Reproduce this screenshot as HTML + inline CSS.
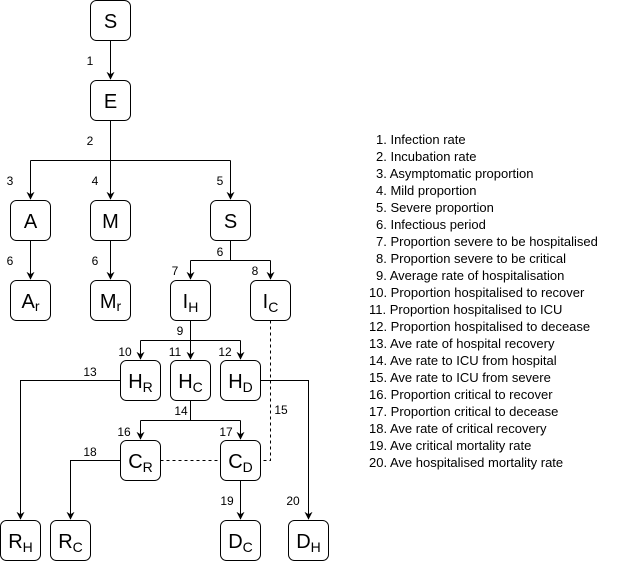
<!DOCTYPE html>
<html><head><meta charset="utf-8"><style>
html,body{margin:0;padding:0;background:#fff;}
svg{display:block;}
svg text{font-family:"Liberation Sans",Arial,sans-serif;}
</style></head><body>
<svg width="621" height="561" viewBox="0 0 621 561" xmlns="http://www.w3.org/2000/svg" font-family="Liberation Sans, Arial, sans-serif">
<defs>
<marker id="ar" viewBox="0 0 10 10" refX="9" refY="5" markerWidth="8" markerHeight="8" orient="auto" markerUnits="userSpaceOnUse">
<path d="M0,0 L10,5 L0,10 L3,5 z" fill="#000"/>
</marker>
</defs>
<g fill="#fff" stroke="#000" stroke-width="1">
<rect x="90.5" y="0.5" width="40" height="40" rx="6"/>
<rect x="90.5" y="80.5" width="40" height="40" rx="6"/>
<rect x="10.5" y="200.5" width="40" height="40" rx="6"/>
<rect x="90.5" y="200.5" width="40" height="40" rx="6"/>
<rect x="210.5" y="200.5" width="40" height="40" rx="6"/>
<rect x="10.5" y="280.5" width="40" height="40" rx="6"/>
<rect x="90.5" y="280.5" width="40" height="40" rx="6"/>
<rect x="170.5" y="280.5" width="40" height="40" rx="6"/>
<rect x="250.5" y="280.5" width="40" height="40" rx="6"/>
<rect x="120.5" y="360.5" width="40" height="40" rx="6"/>
<rect x="170.5" y="360.5" width="40" height="40" rx="6"/>
<rect x="220.5" y="360.5" width="40" height="40" rx="6"/>
<rect x="120.5" y="440.5" width="40" height="40" rx="6"/>
<rect x="220.5" y="440.5" width="40" height="40" rx="6"/>
<rect x="0.5" y="520.5" width="40" height="40" rx="6"/>
<rect x="50.5" y="520.5" width="40" height="40" rx="6"/>
<rect x="220.5" y="520.5" width="40" height="40" rx="6"/>
<rect x="288.5" y="520.5" width="40" height="40" rx="6"/>
</g>
<g fill="none" stroke="#000" stroke-width="1">
<path d="M110.5 40.5 V79" marker-end="url(#ar)"/>
<path d="M110.5 120.5 V199" marker-end="url(#ar)"/>
<path d="M30.5 160.5 H230.5"/>
<path d="M30.5 160.5 V199" marker-end="url(#ar)"/>
<path d="M230.5 160.5 V199" marker-end="url(#ar)"/>
<path d="M30.5 240.5 V279" marker-end="url(#ar)"/>
<path d="M110.5 240.5 V279" marker-end="url(#ar)"/>
<path d="M230.5 240.5 V260.5 M190.5 260.5 H270.5"/>
<path d="M190.5 260.5 V279" marker-end="url(#ar)"/>
<path d="M270.5 260.5 V279" marker-end="url(#ar)"/>
<path d="M190.5 320.5 V359" marker-end="url(#ar)"/>
<path d="M140.5 340.5 H240.5"/>
<path d="M140.5 340.5 V359" marker-end="url(#ar)"/>
<path d="M240.5 340.5 V359" marker-end="url(#ar)"/>
<path d="M120.5 380.5 H20.5 V519" marker-end="url(#ar)"/>
<path d="M260.5 380.5 H308.5 V519" marker-end="url(#ar)"/>
<path d="M190.5 400.5 V420.5 M140.5 420.5 H240.5"/>
<path d="M140.5 420.5 V439" marker-end="url(#ar)"/>
<path d="M240.5 420.5 V439" marker-end="url(#ar)"/>
<path d="M120.5 460.5 H70.5 V519" marker-end="url(#ar)"/>
<path d="M240.5 480.5 V519" marker-end="url(#ar)"/>
<path d="M270.5 320.5 V460.5 H260.5" stroke-dasharray="3,3"/>
<path d="M160.5 460.5 H220.5" stroke-dasharray="3,3"/>
</g>
<g font-size="20" text-anchor="middle" fill="#000">
<text x="110.5" y="28">S</text>
<text x="110.5" y="108">E</text>
<text x="30.5" y="228">A</text>
<text x="110.5" y="228">M</text>
<text x="230.5" y="228">S</text>
<text x="30.5" y="308">A<tspan font-size="14" dy="3">r</tspan></text>
<text x="110.5" y="308">M<tspan font-size="14" dy="3">r</tspan></text>
<text x="190.5" y="308">I<tspan font-size="14" dy="4">H</tspan></text>
<text x="270.5" y="308">I<tspan font-size="14" dy="4">C</tspan></text>
<text x="140.5" y="388">H<tspan font-size="14" dy="4">R</tspan></text>
<text x="190.5" y="388">H<tspan font-size="14" dy="4">C</tspan></text>
<text x="240.5" y="388">H<tspan font-size="14" dy="4">D</tspan></text>
<text x="140.5" y="468">C<tspan font-size="14" dy="4">R</tspan></text>
<text x="240.5" y="468">C<tspan font-size="14" dy="4">D</tspan></text>
<text x="20.5" y="548">R<tspan font-size="14" dy="4">H</tspan></text>
<text x="70.5" y="548">R<tspan font-size="14" dy="4">C</tspan></text>
<text x="240.5" y="548">D<tspan font-size="14" dy="4">C</tspan></text>
<text x="308.5" y="548">D<tspan font-size="14" dy="4">H</tspan></text>
</g>
<g font-size="12" fill="#000" text-anchor="middle">
<text x="90" y="65">1</text>
<text x="90" y="145">2</text>
<text x="10" y="185">3</text>
<text x="95" y="185">4</text>
<text x="220" y="185">5</text>
<text x="10" y="265">6</text>
<text x="95" y="265">6</text>
<text x="220" y="256">6</text>
<text x="175" y="275">7</text>
<text x="255" y="275">8</text>
<text x="180" y="335">9</text>
<text x="125" y="356">10</text>
<text x="175" y="356">11</text>
<text x="225" y="356">12</text>
<text x="90" y="376">13</text>
<text x="181" y="415">14</text>
<text x="281" y="414">15</text>
<text x="124" y="436">16</text>
<text x="226" y="436">17</text>
<text x="90" y="456">18</text>
<text x="227" y="505">19</text>
<text x="293" y="505">20</text>
</g>
<g font-size="13" fill="#000">
<text x="376" y="144">1. Infection rate</text>
<text x="376" y="161">2. Incubation rate</text>
<text x="376" y="178">3. Asymptomatic proportion</text>
<text x="376" y="195">4. Mild proportion</text>
<text x="376" y="212">5. Severe proportion</text>
<text x="376" y="229">6. Infectious period</text>
<text x="376" y="246">7. Proportion severe to be hospitalised</text>
<text x="376" y="263">8. Proportion severe to be critical</text>
<text x="376" y="280">9. Average rate of hospitalisation</text>
<text x="369" y="297">10. Proportion hospitalised to recover</text>
<text x="369" y="314">11. Proportion hospitalised to ICU</text>
<text x="369" y="331">12. Proportion hospitalised to decease</text>
<text x="369" y="348">13. Ave rate of hospital recovery</text>
<text x="369" y="365">14. Ave rate to ICU from hospital</text>
<text x="369" y="382">15. Ave rate to ICU from severe</text>
<text x="369" y="399">16. Proportion critical to recover</text>
<text x="369" y="416">17. Proportion critical to decease</text>
<text x="369" y="433">18. Ave rate of critical recovery</text>
<text x="369" y="450">19. Ave critical mortality rate</text>
<text x="369" y="467">20. Ave hospitalised mortality rate</text>
</g>
</svg>
</body></html>
